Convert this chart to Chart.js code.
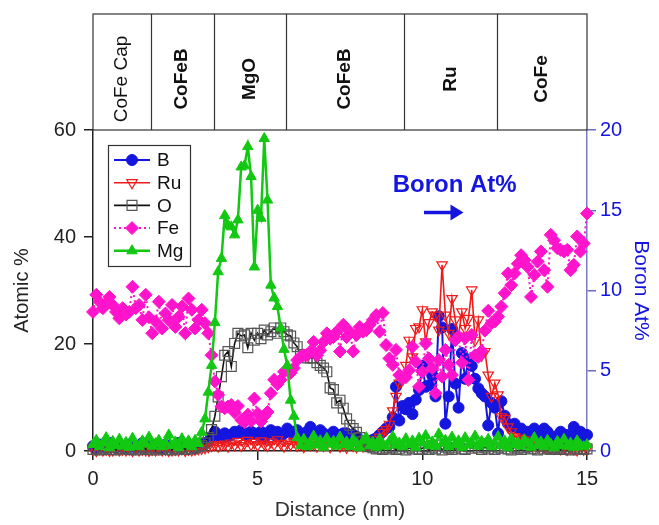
<!DOCTYPE html>
<html>
<head>
<meta charset="utf-8">
<title>Atomic profile</title>
<script src="https://cdn.jsdelivr.net/npm/chart.js@4.4.1/dist/chart.umd.min.js"></script>
<style>
	body { margin: 0; background: #fff; }
	#wrap { width: 659px; height: 525px; }
</style>
</head>
<body>
<div id="wrap"><canvas id="profile" width="659" height="525"></canvas></div>
<script>
//======================================================================================================
// Data (distance in nm, B in Boron At% on the right axis, the rest in Atomic %)
//======================================================================================================
var distance = [
	0.0, 0.1, 0.2, 0.3, 0.4, 0.5, 0.6, 0.7, 0.8, 0.9,
	1.0, 1.1, 1.2, 1.3, 1.4, 1.5, 1.6, 1.7, 1.8, 1.9,
	2.0, 2.1, 2.2, 2.3, 2.4, 2.5, 2.6, 2.7, 2.8, 2.9,
	3.0, 3.1, 3.2, 3.3, 3.4, 3.5, 3.6, 3.7, 3.8, 3.9,
	4.0, 4.1, 4.2, 4.3, 4.4, 4.5, 4.6, 4.7, 4.8, 4.9,
	5.0, 5.1, 5.2, 5.3, 5.4, 5.5, 5.6, 5.7, 5.8, 5.9,
	6.0, 6.1, 6.2, 6.3, 6.4, 6.5, 6.6, 6.7, 6.8, 6.9,
	7.0, 7.1, 7.2, 7.3, 7.4, 7.5, 7.6, 7.7, 7.8, 7.9,
	8.0, 8.1, 8.2, 8.3, 8.4, 8.5, 8.6, 8.7, 8.8, 8.9,
	9.0, 9.1, 9.2, 9.3, 9.4, 9.5, 9.6, 9.7, 9.8, 9.9,
	10.0, 10.1, 10.2, 10.3, 10.4, 10.5, 10.6, 10.7, 10.8, 10.9,
	11.0, 11.1, 11.2, 11.3, 11.4, 11.5, 11.6, 11.7, 11.8, 11.9,
	12.0, 12.1, 12.2, 12.3, 12.4, 12.5, 12.6, 12.7, 12.8, 12.9,
	13.0, 13.1, 13.2, 13.3, 13.4, 13.5, 13.6, 13.7, 13.8, 13.9,
	14.0, 14.1, 14.2, 14.3, 14.4, 14.5, 14.6, 14.7, 14.8, 14.9, 15.0
];

var boron = [
	0.3, 0.2, 0.4, 0.3, 0.2, 0.5, 0.3, 0.2, 0.4, 0.3,
	0.2, 0.4, 0.3, 0.2, 0.3, 0.5, 0.2, 0.3, 0.4, 0.2,
	0.3, 0.2, 0.4, 0.3, 0.2, 0.3, 0.5, 0.2, 0.3, 0.4,
	0.3, 0.2, 0.4, 0.3, 0.5, 0.6, 0.9, 1.2, 1.0, 0.8,
	1.1, 0.9, 1.0, 1.2, 1.1, 1.3, 1.0, 0.9, 1.2, 1.1,
	1.0, 1.2, 0.8, 1.1, 1.3, 1.0, 1.2, 0.9, 1.1, 1.4,
	1.2, 1.0, 1.3, 1.1, 0.9, 1.2, 1.5, 1.1, 1.0, 1.3,
	1.1, 0.9, 1.0, 1.2, 0.8, 1.0, 1.1, 1.1, 0.9, 1.0,
	0.9, 0.7, 0.6, 0.5, 0.6, 0.7, 0.8, 1.0, 1.2, 1.4,
	1.5, 2.1, 4.0, 1.9, 2.8, 2.6, 3.0, 2.3, 3.2, 3.8,
	5.3, 4.0, 4.1, 4.7, 3.4, 8.4, 7.7, 1.7, 3.4, 7.6,
	4.2, 2.7, 6.1, 4.5, 5.7, 5.3, 4.5, 3.9, 3.6, 3.4,
	1.6, 3.0, 2.7, 1.1, 3.1, 2.2, 1.7, 1.5, 1.7, 1.4,
	1.4, 1.0, 1.2, 0.9, 1.4, 1.1, 0.8, 1.4, 1.2, 0.8,
	0.9, 0.7, 1.2, 0.8, 1.0, 0.6, 1.5, 1.1, 1.2, 0.9, 1.0
];

var ruthenium = [
	0.3, 0.1, 0.4, 0.2, 0.3, 0.1, 0.2, 0.4, 0.2, 0.3,
	0.2, 0.3, 0.1, 0.4, 0.2, 0.3, 0.2, 0.1, 0.3, 0.2,
	0.4, 0.2, 0.3, 0.1, 0.2, 0.3, 0.2, 0.4, 0.1, 0.3,
	0.2, 0.3, 0.4, 0.5, 0.6, 0.8, 1.0, 1.2, 0.9, 1.1,
	1.3, 0.9, 1.5, 1.1, 1.8, 1.0, 1.4, 2.0, 1.2, 1.6,
	1.1, 1.9, 1.3, 1.0, 1.7, 1.2, 2.1, 1.4, 0.9, 1.5,
	1.2, 1.8, 1.0, 1.4, 0.8, 1.6, 1.1, 1.3, 0.9, 1.5,
	1.0, 1.4, 0.8, 1.2, 1.6, 0.9, 1.1, 0.7, 1.3, 1.0,
	0.8, 1.2, 0.9, 1.1, 1.0, 1.5, 2.1, 2.6, 3.5, 4.0,
	5.0, 7.5, 10.2, 12.7, 13.3, 16.0, 20.7, 17.6, 22.9, 23.2,
	26.4, 20.4, 24.0, 26.0, 25.4, 22.6, 34.8, 25.4, 22.0, 28.5,
	24.5, 21.5, 26.0, 22.9, 24.8, 30.1, 20.7, 24.5, 17.9, 18.6,
	14.2, 10.2, 12.7, 10.5, 6.4, 6.1, 4.5, 3.6, 2.7, 2.4,
	2.2, 2.1, 1.8, 1.4, 1.2, 0.9, 1.0, 0.7, 0.8, 0.6,
	0.5, 0.7, 0.4, 0.6, 0.3, 0.5, 0.4, 0.2, 0.5, 0.3, 0.4
];

var oxygen = [
	0.3, 0.5, 0.2, 0.6, 0.4, 0.3, 0.7, 0.2, 0.5, 0.4,
	0.6, 0.3, 0.4, 0.2, 0.5, 0.7, 0.3, 0.4, 0.6, 0.2,
	0.5, 0.4, 0.3, 0.6, 0.2, 0.5, 0.4, 0.7, 0.3, 0.5,
	0.4, 0.6, 0.8, 1.0, 1.5, 2.5, 4.0, 6.5, 10.1, 13.9,
	17.9, 18.6, 15.8, 20.1, 22.0, 21.5, 21.7, 19.3, 22.0, 20.7,
	22.0, 21.0, 22.6, 21.7, 22.3, 23.0, 22.0, 23.0, 22.3, 21.7,
	21.5, 20.2, 19.5, 18.0, 18.0, 17.4, 17.4, 17.4, 16.5, 16.0,
	15.5, 14.8, 11.8, 11.5, 9.0, 9.5, 8.0, 6.0, 4.8, 4.2,
	3.5, 2.5, 1.8, 1.2, 0.8, 0.6, 0.4, 0.5, 0.3, 0.6,
	0.4, 0.7, 0.3, 0.5, 0.9, 0.2, 0.6, 0.4, 1.0, 0.3,
	0.5, 0.8, 0.3, 0.6, 0.4, 1.1, 0.2, 0.7, 0.5, 0.3,
	0.6, 1.2, 0.4, 0.3, 0.8, 0.5, 1.4, 0.6, 0.3, 0.7,
	0.4, 0.9, 0.3, 0.6, 0.5, 1.0, 0.4, 0.2, 0.7, 0.5,
	0.3, 0.6, 0.8, 0.4, 0.5, 0.2, 0.9, 0.4, 0.6, 0.3,
	0.5, 0.7, 0.3, 0.4, 0.8, 0.2, 0.6, 0.4, 0.5, 0.3, 0.4
];

var iron = [
	26.0, 29.2, 27.9, 26.7, 27.5, 28.8, 27.3, 26.0, 24.8, 26.7,
	25.5, 26.0, 30.7, 26.7, 27.3, 24.5, 29.2, 25.0, 22.0, 24.2,
	27.9, 22.9, 25.7, 24.5, 27.3, 23.2, 25.1, 27.0, 22.0, 28.5,
	26.4, 22.9, 24.5, 26.4, 23.9, 22.0, 17.9, 13.0, 10.5, 8.3,
	8.0, 8.3, 8.6, 7.2, 8.4, 5.8, 5.4, 6.8, 5.6, 9.8,
	7.0, 5.5, 6.5, 7.3, 10.8, 13.3, 12.5, 13.3, 14.8, 15.1,
	14.6, 15.5, 17.0, 17.6, 17.9, 17.9, 18.6, 20.4, 17.9, 18.8,
	20.4, 22.0, 21.0, 21.3, 22.3, 18.6, 23.6, 21.3, 22.3, 18.6,
	21.7, 23.2, 22.3, 22.6, 23.6, 24.5, 25.4, 22.3, 25.8, 19.8,
	17.3, 16.1, 18.9, 14.2, 13.6, 13.8, 15.1, 19.5, 16.7, 12.0,
	14.8, 20.1, 17.3, 15.5, 10.8, 17.0, 13.9, 18.9, 16.1, 14.2,
	20.7, 21.4, 16.5, 21.1, 13.3, 21.7, 17.9, 17.6, 18.7, 22.5,
	26.2, 23.9, 24.2, 25.1, 27.0, 29.5, 33.2, 31.0, 33.2, 35.0,
	36.6, 35.7, 34.4, 28.8, 32.9, 35.4, 37.3, 33.8, 30.7, 40.4,
	39.4, 37.9, 37.6, 37.3, 37.6, 33.8, 34.8, 40.1, 37.3, 38.8, 44.4
];

var magnesium = [
	1.2, 2.0, 0.8, 1.5, 2.5, 0.6, 1.8, 1.0, 2.2, 0.9,
	1.6, 0.7, 2.4, 1.1, 0.8, 1.9, 1.3, 2.6, 0.9, 1.4,
	2.0, 0.8, 1.5, 3.0, 1.0, 1.7, 0.6, 2.3, 1.2, 1.9,
	0.8, 2.0, 1.4, 3.5, 6.0, 11.0, 16.0, 24.0, 33.5, 36.0,
	44.0, 42.2, 41.9, 40.4, 43.2, 53.1, 53.3, 56.9, 51.3, 34.4,
	45.0, 43.5, 58.4, 46.9, 31.0, 28.6, 27.0, 23.0, 19.0, 16.0,
	9.5, 6.5, 2.5, 1.0, 2.2, 0.8, 1.5, 2.8, 1.1, 1.9,
	0.7, 2.4, 1.3, 1.8, 0.9, 2.6, 1.2, 1.7, 0.8, 2.1,
	1.4, 0.6, 1.9, 2.5, 1.0, 1.6, 0.7, 2.2, 1.3, 0.9,
	1.8, 2.7, 1.1, 1.5, 0.8, 2.3, 1.2, 1.9, 0.7, 2.4,
	1.5, 2.9, 1.0, 1.7, 0.9, 3.2, 1.4, 2.0, 0.8, 2.6,
	1.2, 1.9, 0.7, 2.5, 1.1, 1.6, 2.8, 0.9, 1.8, 1.3,
	2.2, 0.8, 1.5, 2.7, 1.0, 1.9, 0.6, 2.3, 1.2, 1.6,
	0.9, 2.1, 1.4, 0.7, 2.5, 1.1, 1.7, 0.8, 2.0, 1.3,
	0.6, 1.8, 1.0, 2.2, 0.9, 1.5, 0.7, 1.9, 1.1, 0.8, 1.2
];

// Layer stack shown in the strip above the plot (boundaries in nm)
var layerEdges = [0, 1.75, 3.67, 5.85, 9.44, 12.27, 15];
var layerNames = ["CoFe Cap", "CoFeB", "MgO", "CoFeB", "Ru", "CoFe"];

//======================================================================================================
// Helpers and plugins
//======================================================================================================
var FONT = "'Liberation Sans', Arial, Helvetica, sans-serif";
var BLUE = "#1515e0";

function Points(values)
{
	return distance.map(function(d, i) { return { x: d, y: values[i] }; });
}

// Strip with the layer names above the chart area
var layerStrip = {
	id: 'layerStrip',
	afterDraw: function(chart) {
		var ctx = chart.ctx, area = chart.chartArea, xs = chart.scales.x;
		var top = 14;
		ctx.save();
		ctx.strokeStyle = "#333";
		ctx.lineWidth = 1.2;
		ctx.strokeRect(area.left, top, area.right - area.left, area.top - top);
		for (var i = 1; i < layerEdges.length - 1; i++)
		{
			var px = Math.round(xs.getPixelForValue(layerEdges[i])) + 0.5;
			ctx.beginPath();
			ctx.moveTo(px, top);
			ctx.lineTo(px, area.top);
			ctx.stroke();
		}
		ctx.fillStyle = "#111";
		ctx.textAlign = "center";
		ctx.textBaseline = "middle";
		for (var j = 0; j < layerNames.length; j++)
		{
			var cx = (xs.getPixelForValue(layerEdges[j]) + xs.getPixelForValue(layerEdges[j + 1])) / 2;
			ctx.save();
			ctx.translate(cx, 79);
			ctx.rotate(-Math.PI / 2);
			ctx.font = (j == 0 ? "" : "bold ") + "19px " + FONT;
			ctx.fillText(layerNames[j], 0, 0);
			ctx.restore();
		}
		ctx.restore();
	}
};

// Legend box inside the plot, with line + marker samples
var legendBox = {
	id: 'legendBox',
	afterDraw: function(chart) {
		var ctx = chart.ctx;
		var order = ["B", "Ru", "O", "Fe", "Mg"];
		var x0 = 108, y0 = 145, w = 82, h = 121;
		ctx.save();
		ctx.fillStyle = "#fff";
		ctx.fillRect(x0, y0, w, h);
		ctx.strokeStyle = "#333";
		ctx.lineWidth = 1.2;
		ctx.strokeRect(x0 + 0.5, y0 + 0.5, w, h);
		order.forEach(function(name, i) {
			var ds = chart.data.datasets.find(function(d) { return d.label == name; });
			var y = y0 + 15 + i * 22.7;
			ctx.save();
			ctx.strokeStyle = ds.borderColor;
			ctx.lineWidth = ds.borderWidth;
			ctx.setLineDash(ds.borderDash || []);
			ctx.beginPath();
			ctx.moveTo(x0 + 6, y);
			ctx.lineTo(x0 + 42, y);
			ctx.stroke();
			ctx.setLineDash([]);
			ctx.fillStyle = ds.pointBackgroundColor || ds.backgroundColor;
			ctx.strokeStyle = ds.pointBorderColor || ds.borderColor;
			ctx.lineWidth = ds.pointBorderWidth || 1;
			Chart.helpers.drawPoint(ctx, {
				pointStyle: ds.pointStyle,
				rotation: ds.pointRotation || 0,
				radius: ds.pointRadius,
				borderWidth: ds.pointBorderWidth || 1
			}, x0 + 24, y);
			ctx.restore();
			ctx.fillStyle = "#111";
			ctx.font = "19px " + FONT;
			ctx.textAlign = "left";
			ctx.textBaseline = "middle";
			ctx.fillText(name, x0 + 49, y + 1);
		});
		ctx.restore();
	}
};

// "Boron At%" note with an arrow pointing at the right axis
var boronNote = {
	id: 'boronNote',
	afterDraw: function(chart) {
		var ctx = chart.ctx, xs = chart.scales.x, ys = chart.scales.y;
		var tx = xs.getPixelForValue(9.1), ty = ys.getPixelForValue(49.6);
		var ax0 = xs.getPixelForValue(10.05), ax1 = xs.getPixelForValue(11.25), ay = ys.getPixelForValue(44.6);
		ctx.save();
		ctx.fillStyle = BLUE;
		ctx.font = "bold 24px " + FONT;
		ctx.textAlign = "left";
		ctx.textBaseline = "middle";
		ctx.fillText("Boron At%", tx, ty);
		ctx.strokeStyle = BLUE;
		ctx.lineWidth = 3.5;
		ctx.beginPath();
		ctx.moveTo(ax0, ay);
		ctx.lineTo(ax1 - 8, ay);
		ctx.stroke();
		ctx.beginPath();
		ctx.moveTo(ax1, ay);
		ctx.lineTo(ax1 - 13, ay - 8);
		ctx.lineTo(ax1 - 13, ay + 8);
		ctx.closePath();
		ctx.fill();
		ctx.restore();
	}
};

//======================================================================================================
// Chart
//======================================================================================================
Chart.defaults.font.family = FONT;

var profileChart = new Chart(document.getElementById("profile"), {
	type: "line",
	data: {
		datasets: [
			{
				label: "B", data: Points(boron), yAxisID: "yB", order: 5,
				borderColor: BLUE, backgroundColor: BLUE, borderWidth: 2,
				pointStyle: "circle", pointRadius: 5.5, pointBorderWidth: 1
			},
			{
				label: "Ru", data: Points(ruthenium), yAxisID: "y", order: 4,
				borderColor: "#f01a1a", backgroundColor: "rgba(255,255,255,0)", borderWidth: 1.6,
				pointStyle: "triangle", pointRotation: 180, pointRadius: 6, pointBorderWidth: 1.2
			},
			{
				label: "O", data: Points(oxygen), yAxisID: "y", order: 3,
				borderColor: "#111", backgroundColor: "rgba(255,255,255,0)", borderWidth: 1.6,
				pointBorderColor: "#555", pointStyle: "rect", pointRadius: 7, pointBorderWidth: 1.2
			},
			{
				label: "Fe", data: Points(iron), yAxisID: "y", order: 2,
				borderColor: "#ff14cc", backgroundColor: "#ff14cc", borderWidth: 2, borderDash: [2, 3],
				pointStyle: "rectRot", pointRadius: 6.5, pointBorderWidth: 1
			},
			{
				label: "Mg", data: Points(magnesium), yAxisID: "y", order: 1,
				borderColor: "#12c812", backgroundColor: "#12c812", borderWidth: 2.5,
				pointStyle: "triangle", pointRadius: 6, pointBorderWidth: 1
			}
		]
	},
	options: {
		responsive: false,
		animation: false,
		events: [],
		clip: false,
		layout: { padding: { top: 130, left: 0, right: 0, bottom: 0 } },
		elements: { line: { tension: 0 } },
		plugins: { legend: { display: false }, tooltip: { enabled: false } },
		scales: {
			x: {
				type: "linear", min: 0, max: 15,
				ticks: { stepSize: 5, color: "#222", font: { size: 20 }, padding: 7 },
				grid: { drawOnChartArea: false, tickLength: 9, color: "#222", lineWidth: 1.5 },
				border: { color: "#222", width: 1.5 },
				title: { display: true, text: "Distance (nm)", color: "#333", font: { size: 21 }, padding: { top: 0, bottom: 2 } },
				afterFit: function(s) { s.height = 74; }
			},
			y: {
				position: "left", min: 0, max: 60,
				ticks: { stepSize: 20, color: "#222", font: { size: 20 }, padding: 8 },
				grid: { drawOnChartArea: false, tickLength: 9, color: "#222", lineWidth: 1.5 },
				border: { color: "#222", width: 1.5 },
				title: { display: true, text: "Atomic %", color: "#222", font: { size: 20 }, padding: { top: 10, bottom: 0 } },
				afterFit: function(s) { s.width = 93; }
			},
			yB: {
				position: "right", min: 0, max: 20,
				ticks: { stepSize: 5, color: BLUE, font: { size: 20 }, padding: 4 },
				grid: { drawOnChartArea: false, tickLength: 9, color: "#6a6ac8", lineWidth: 1.5 },
				border: { color: "#7a7ac8", width: 1.5 },
				title: { display: true, text: "Boron At%", color: BLUE, font: { size: 21 }, padding: { top: 6, bottom: 0 } },
				afterFit: function(s) { s.width = 72; }
			}
		}
	},
	plugins: [layerStrip, legendBox, boronNote]
});
</script>
</body>
</html>
